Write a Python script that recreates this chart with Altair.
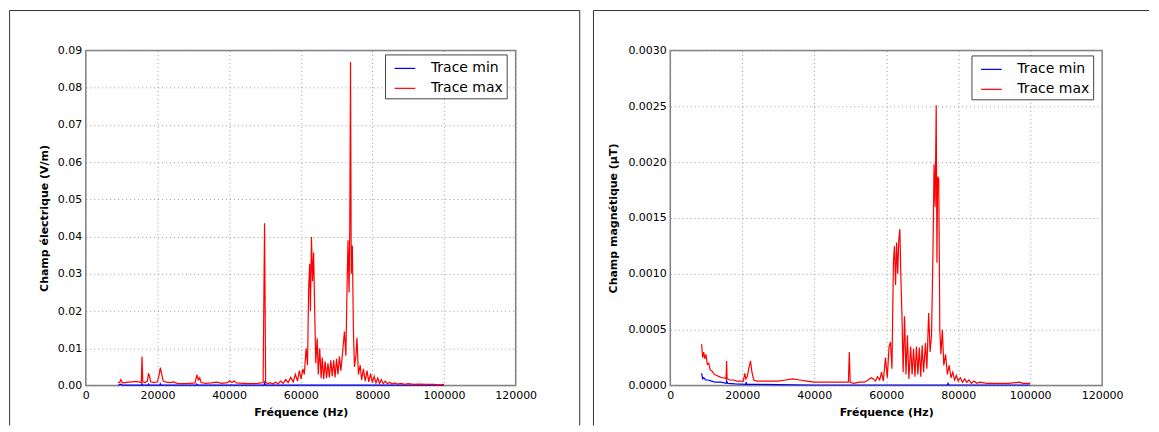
import altair as alt
import pandas as pd

# ---------------- Data: electric field (V/m) ----------------
e_max_f = [9000, 9500, 9800, 10200, 11000, 12000, 13000, 14000, 15000, 15500, 15700, 15900,
           16500, 17200, 17500, 17800, 18100, 19000, 20000, 20500, 20800, 21200, 21600, 22500,
           23500, 24500, 25500, 27000, 29000, 30500, 31000, 31400, 31800, 32200, 33500, 35000,
           36500, 38000, 39500, 40200, 40800, 41400, 42000, 44000, 46000, 48000, 49500, 49900,
           50200, 50800, 51500, 52200, 53000, 53700, 54400, 55100, 55800, 56500, 57200, 57900,
           58500, 59100, 59600, 60100, 60600, 61000, 61500, 61900, 62200, 62500, 62700, 63000,
           63300, 63600, 63900, 64200, 64600, 64900, 65300, 65700, 66000, 66400, 66800, 67200,
           67600, 68000, 68400, 68800, 69200, 69600, 70000, 70400, 70800, 71200, 71700, 72200,
           72600, 73000, 73200, 73500, 73700, 73900, 74100, 74400, 74700, 75000, 75400, 75700,
           76100, 76600, 77000, 77500, 78000, 78500, 79000, 79500, 80000, 80500, 81000, 81500,
           82000, 82500, 83000, 83600, 84200, 84800, 85500, 86200, 87000, 88000, 89000, 90000,
           91500, 93000, 95000, 97000, 99000, 100000]
e_max_v = [0.0008, 0.0009, 0.0016, 0.0007, 0.0008, 0.0009, 0.0010, 0.0011, 0.0009, 0.0008, 0.0078, 0.0010,
           0.0008, 0.0012, 0.0033, 0.0025, 0.0010, 0.0008, 0.0010, 0.0030, 0.0048, 0.0030, 0.0012, 0.0009,
           0.0008, 0.0010, 0.0006, 0.0005, 0.0006, 0.0007, 0.0029, 0.0015, 0.0021, 0.0008, 0.0006, 0.0007,
           0.0009, 0.0006, 0.0008, 0.0013, 0.0008, 0.0012, 0.0007, 0.0006, 0.0005, 0.0006, 0.0008, 0.0436,
           0.0009, 0.0005, 0.0008, 0.0004, 0.0009, 0.0005, 0.0012, 0.0006, 0.0016, 0.0008, 0.0022, 0.0010,
           0.0030, 0.0012, 0.0040, 0.0018, 0.0045, 0.0030, 0.0100, 0.0055, 0.0256, 0.0327, 0.0200, 0.0399,
           0.0280, 0.0357, 0.0200, 0.0060, 0.0127, 0.0030, 0.0100, 0.0020, 0.0075, 0.0018, 0.0065, 0.0020,
           0.0060, 0.0022, 0.0068, 0.0025, 0.0068, 0.0022, 0.0072, 0.0030, 0.0078, 0.0040, 0.0090, 0.0145,
           0.0080, 0.0300, 0.0390, 0.0250, 0.0440, 0.0869, 0.0300, 0.0376, 0.0150, 0.0050, 0.0080, 0.0128,
           0.0030, 0.0055, 0.0015, 0.0045, 0.0012, 0.0040, 0.0010, 0.0032, 0.0008, 0.0025, 0.0007, 0.0020,
           0.0006, 0.0016, 0.0005, 0.0012, 0.0005, 0.0009, 0.0004, 0.0007, 0.0004, 0.0006, 0.0003, 0.0005,
           0.0003, 0.0004, 0.0003, 0.0003, 0.0002, 0.0003]
e_min_f = [9000, 9800, 10200, 15600, 15700, 15900, 17400, 17500, 17700, 20700, 20800, 21000,
           30900, 31000, 31300, 40400, 40500, 41000, 49800, 49900, 50200, 100000]
e_min_v = [0.0001, 0.0004, 0.0001, 0.0001, 0.0005, 0.0001, 0.0001, 0.0004, 0.0001, 0.0001, 0.0005, 0.0001,
           0.0001, 0.0004, 0.0001, 0.0001, 0.0002, 0.0001, 0.0001, 0.0008, 0.0001, 0.0001]

# ---------------- Data: magnetic field (µT) ----------------
b_max_f = [8700, 9000, 9300, 9600, 9900, 10300, 10700, 11100, 11600, 12200, 12900, 13600,
           14300, 15000, 15500, 15650, 15800, 16500, 17500, 18500, 19500, 20300, 20700, 21000,
           21400, 21800, 22300, 22700, 23200, 24000, 26000, 28000, 30000, 32000, 34000, 36000,
           38000, 40000, 43000, 46000, 49500, 49750, 50000, 51000, 52500, 54000, 55000, 55800,
           56400, 57000, 57600, 58200, 58700, 59200, 59800, 60300, 60800, 61200, 61600, 62000,
           62300, 62600, 62900, 63200, 63500, 63800, 64100, 64400, 64700, 65100, 65500, 65900,
           66300, 66800, 67200, 67600, 68000, 68400, 68800, 69200, 69600, 70000, 70400, 70900,
           71300, 71800, 72200, 72600, 73000, 73300, 73600, 73900, 74100, 74300, 74600, 74900,
           75200, 75600, 76000, 76500, 77000, 77500, 78000, 78500, 79000, 79500, 80000, 80600,
           81200, 81800, 82400, 83000, 83700, 84400, 85200, 86000, 88000, 91000, 94000, 97000,
           98000, 100000]
b_max_v = [0.00037, 0.00025, 0.00030, 0.00024, 0.00028, 0.00019, 0.00020, 0.00014, 0.00013, 0.00010, 0.00009, 0.00008,
           0.00007, 0.00007, 0.00006, 0.00022, 0.00006, 0.00005, 0.00005, 0.00004, 0.00004, 0.00004, 0.00011, 0.00006,
           0.00008, 0.00015, 0.00022, 0.00012, 0.00005, 0.00004, 0.00004, 0.00004, 0.00004, 0.00005, 0.00006, 0.00005,
           0.00004, 0.00003, 0.00003, 0.00003, 0.00003, 0.00030, 0.00003, 0.00002, 0.00003, 0.00003, 0.00005, 0.00007,
           0.00006, 0.00004, 0.00008, 0.00005, 0.00012, 0.00004, 0.00025, 0.00007, 0.00035, 0.00039, 0.00015, 0.00110,
           0.00125, 0.00090, 0.00128, 0.00100, 0.00130, 0.00140, 0.00095, 0.00060, 0.00012, 0.00062, 0.00010, 0.00045,
           0.00006, 0.00035, 0.00010, 0.00033, 0.00008, 0.00035, 0.00010, 0.00034, 0.00008, 0.00036, 0.00012, 0.00038,
           0.00015, 0.00065, 0.00030, 0.00045, 0.00120, 0.00198, 0.00160, 0.00251, 0.00110, 0.00187, 0.00185, 0.00050,
           0.00028, 0.00050, 0.00018, 0.00028, 0.00010, 0.00018, 0.00007, 0.00012, 0.00005, 0.00009, 0.00004, 0.00007,
           0.00003, 0.00006, 0.00003, 0.00005, 0.00002, 0.00004, 0.00002, 0.00003, 0.00002, 0.00002, 0.00002, 0.00003,
           0.00002, 0.00002]
b_min_f = [8700, 9000, 9300, 9800, 10500, 11500, 12500, 14000, 15600, 15650, 16000, 18000,
           21000, 21100, 21300, 25000, 30000, 40000, 60000, 77000, 77200, 77400, 100000]
b_min_v = [0.00011, 0.00006, 0.00007, 0.00005, 0.00005, 0.00004, 0.00003, 0.00003, 0.00002, 0.00004, 0.00002, 0.000015,
           0.00001, 0.00003, 0.00001, 0.00001, 0.000008, 0.000005, 0.000005, 0.000005, 0.00002, 0.000005, 0.000005]

x_ticks = [0, 20000, 40000, 60000, 80000, 100000, 120000]
e_ticks = [0.0, 0.01, 0.02, 0.03, 0.04, 0.05, 0.06, 0.07, 0.08, 0.09]
b_ticks = [0.0, 0.0005, 0.001, 0.0015, 0.002, 0.0025, 0.003]
series = ["Trace min", "Trace max"]
colors = ["#0000ff", "#ff0000"]


def frame(f_min, v_min, f_max, v_max):
    return pd.concat([
        pd.DataFrame({"f": f_min, "v": v_min, "s": series[0]}),
        pd.DataFrame({"f": f_max, "v": v_max, "s": series[1]}),
    ], ignore_index=True)


def panel(df, w, h, y_ticks, y_max, y_fmt, y_title, y_title_x, legend_x, legend_y,
          frame_left, frame_right, draw_right_edge):
    base = alt.Chart(df)
    x_enc = alt.X("f:Q", scale=alt.Scale(domain=[0, 120000], nice=False),
                  axis=alt.Axis(values=x_ticks, format="d", title="Fréquence (Hz)",
                                titleY=26.7, titleBaseline="middle", labelPadding=4,
                                labelFlush=False))
    y_enc = alt.Y("v:Q", scale=alt.Scale(domain=[0, y_max], nice=False),
                  axis=alt.Axis(values=y_ticks, format=y_fmt, title=y_title,
                                titleX=y_title_x, titleY=h / 2, titleAngle=270,
                                titleBaseline="middle", titleAlign="center", labelPadding=4,
                                labelFlush=False))
    legend = alt.Legend(orient="none", legendX=legend_x, legendY=legend_y, title=None,
                        labelFontSize=14, labelFont="DejaVu Sans", labelColor="black",
                        labelExpr="datum.label + '\u00a0'",
                        symbolType="stroke", symbolSize=430, symbolStrokeWidth=1.2,
                        symbolOffset=6, labelOffset=15, padding=3, rowPadding=2,
                        fillColor="white", strokeColor="#444", symbolOpacity=1)
    col = alt.Color("s:N", scale=alt.Scale(domain=series, range=colors), legend=legend)
    lmin = base.transform_filter(alt.datum.s == series[0]).mark_line(strokeWidth=1.2).encode(
        x=x_enc, y=y_enc, color=col)
    lmax = base.transform_filter(alt.datum.s == series[1]).mark_line(strokeWidth=1.2).encode(
        x=x_enc, y=y_enc, color=col)
    one = alt.Data(values=[{"k": 1}])
    top = alt.Chart(one).mark_rule(color="#333", strokeWidth=1).encode(
        x=alt.value(frame_left), x2=alt.value(frame_right), y=alt.value(-40))
    left = alt.Chart(one).mark_rule(color="#333", strokeWidth=1).encode(
        x=alt.value(frame_left), y=alt.value(-40), y2=alt.value(376))
    layers = [lmin, lmax, top, left]
    if draw_right_edge:
        right = alt.Chart(one).mark_rule(color="#333", strokeWidth=1).encode(
            x=alt.value(frame_right), y=alt.value(-40), y2=alt.value(376))
        layers.append(right)
    return alt.layer(*layers).properties(width=w, height=h)


left_panel = panel(frame(e_min_f, e_min_v, e_max_f, e_max_v), 431, 336, e_ticks, 0.09, ".2f",
                   "Champ électrique (V/m)", -41.8, 300, 4, -76.4, 495.2, True)
right_panel = panel(frame(b_min_f, b_min_v, b_max_f, b_max_v), 433, 336, b_ticks, 0.003, ".4f",
                    "Champ magnétique (µT)", -56.5, 302, 5, -77, 480, False)

chart = alt.hconcat(left_panel, right_panel, spacing=10).resolve_legend(
    color="independent").resolve_scale(color="independent", y="independent").properties(
    padding=0, background="white").configure_axis(
    labelFont="DejaVu Sans", labelFontSize=11, labelColor="black",
    titleFont="DejaVu Sans", titleFontSize=11, titleFontWeight="bold", titleColor="black",
    gridColor="#999999", gridDash=[1, 3], gridWidth=1, domain=False, ticks=False, tickSize=0
).configure_view(stroke="#808080", strokeWidth=1.5)

chart.save("out.html", embed_options={"renderer": "svg", "actions": False})
